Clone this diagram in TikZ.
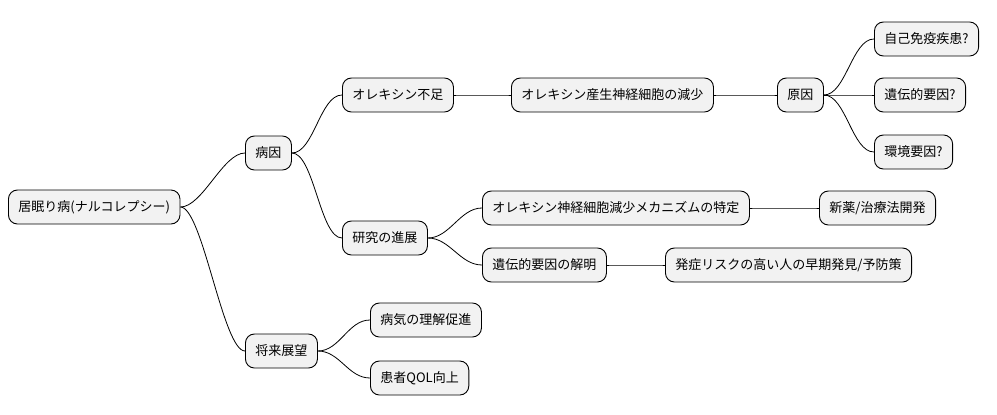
\documentclass[tikz,border=0pt]{standalone}
\usepackage{fontspec}
\setmainfont{Noto Sans CJK JP}
\begin{document}
\begin{tikzpicture}[x=1pt,y=-1pt,
    topic/.style={draw=black, fill=gray!10, rounded corners=9pt, line width=0.9pt,
      minimum height=34pt, inner xsep=10pt, anchor=west,
      font=\fontsize{13}{15}\selectfont},
    link/.style={line width=0.8pt}]

    \useasboundingbox (0,0) rectangle (997,415);

    % root and branches
    \node[topic] (root) at (8,207) {居眠り病(ナルコレプシー)};
    \node[topic] (cause) at (245,153) {病因};
    \node[topic] (future) at (245,351) {将来展望};
    \node[topic] (lack) at (342,95) {オレキシン不足};
    \node[topic] (study) at (342,238) {研究の進展};
    \node[topic] (loss) at (511,95) {オレキシン産生神経細胞の減少};
    \node[topic] (reason) at (777,95) {原因};
    \node[topic] (auto) at (874,39) {自己免疫疾患?};
    \node[topic] (gene) at (874,95) {遺伝的要因?};
    \node[topic] (env) at (874,152) {環境要因?};
    \node[topic] (mech) at (482,208) {オレキシン神経細胞減少メカニズムの特定};
    \node[topic] (drug) at (819,208) {新薬/治療法開発};
    \node[topic] (clear) at (482,265) {遺伝的要因の解明};
    \node[topic] (early) at (665,265) {発症リスクの高い人の早期発見/予防策};
    \node[topic] (know) at (370,320) {病気の理解促進};
    \node[topic] (qol) at (370,378) {患者QOL向上};

    % connectors
    \foreach \a/\b in {root/cause, root/future, cause/lack, cause/study,
        lack/loss, loss/reason, reason/auto, reason/gene, reason/env,
        study/mech, study/clear, mech/drug, clear/early, future/know, future/qol}
      \draw[link] (\a.east) .. controls +(22,0) and +(-22,0) .. (\b.west);

\end{tikzpicture}
\end{document}
